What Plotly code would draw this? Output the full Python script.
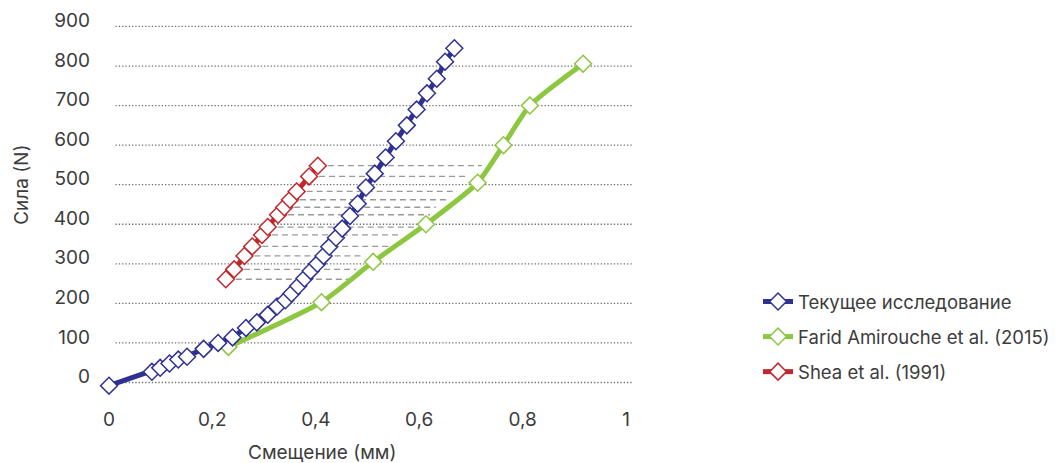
import plotly.graph_objects as go

# ---- data ----
blue_name = "Текущее исследование"
blue_x = [0, 0.083, 0.099, 0.117, 0.134, 0.151, 0.183, 0.211, 0.239, 0.265, 0.286, 0.307,
          0.325, 0.341, 0.353, 0.366, 0.378, 0.390, 0.403, 0.415, 0.426, 0.439, 0.451,
          0.466, 0.481, 0.497, 0.514, 0.535, 0.555, 0.576, 0.595, 0.615, 0.634, 0.650, 0.668]
blue_y = [-8, 27, 37, 48, 58, 65, 85, 100, 114, 138, 152, 171, 192, 208, 225, 244, 263,
          282, 300, 320, 343, 366, 389, 421, 452, 493, 528, 569, 610, 650, 690, 731, 768,
          811, 845]

green_name = "Farid Amirouche et al. (2015)"
green_x = [0.231, 0.411, 0.511, 0.613, 0.713, 0.763, 0.814, 0.917]
green_y = [90, 203, 305, 400, 505, 600, 700, 806]

red_name = "Shea et al. (1991)"
red_x = [0.226, 0.242, 0.262, 0.277, 0.296, 0.307, 0.327, 0.339, 0.350, 0.363, 0.387, 0.404]
red_y = [261, 286, 320, 344, 373, 393, 424, 443, 462, 483, 521, 548]

# right ends of the grey dashed guide lines (one per red point)
dash_end_x = [0.466, 0.478, 0.492, 0.544, 0.567, 0.593, 0.621, 0.632, 0.653, 0.673, 0.696, 0.721]

x_ticks = [0, 0.2, 0.4, 0.6, 0.8, 1]
x_tick_text = ["0", "0,2", "0,4", "0,6", "0,8", "1"]
y_ticks = [0, 100, 200, 300, 400, 500, 600, 700, 800, 900]

x_title = "Смещение (мм)"
y_title = "Сила (N)"

BLUE = "#2e3192"
GREEN = "#8dc63f"
RED = "#c1272d"
TEXT = "#3c3c3c"
FONT = "Inter, 'Open Sans', sans-serif"
FS = 19

fig = go.Figure()

# dashed guide lines
dx, dy = [], []
for xs, xe, yv in zip(red_x, dash_end_x, red_y):
    dx += [xs, xe, None]
    dy += [yv, yv, None]
fig.add_trace(go.Scatter(x=dx, y=dy, mode="lines", showlegend=False, hoverinfo="skip",
                         line=dict(color="#999999", width=1.3, dash="6px,4px")))

marker_common = dict(symbol="diamond", size=13, color="white")

fig.add_trace(go.Scatter(x=green_x, y=green_y, name=green_name, mode="lines+markers",
                         line=dict(color=GREEN, width=5, shape="spline", smoothing=0.6),
                         marker=dict(**marker_common, line=dict(color=GREEN, width=1.5)),
                         legendgroup="g", legendrank=2))
fig.add_trace(go.Scatter(x=red_x, y=red_y, name=red_name, mode="lines+markers",
                         line=dict(color=RED, width=5),
                         marker=dict(**marker_common, line=dict(color=RED, width=1.5)),
                         legendgroup="r", legendrank=3))
fig.add_trace(go.Scatter(x=blue_x, y=blue_y, name=blue_name, mode="lines+markers",
                         line=dict(color=BLUE, width=5),
                         marker=dict(**marker_common, line=dict(color=BLUE, width=1.5)),
                         legendgroup="b", legendrank=1))

# dotted horizontal gridlines
for yv in y_ticks:
    fig.add_shape(type="line", xref="x", yref="y", x0=0.0126, x1=1.0135, y0=yv, y1=yv,
                  line=dict(color="#6e6e6e", width=1.3, dash="1.3px,2px"), layer="below")

# axis titles (placed as in the reference, not centred on the plot area)
fig.add_annotation(text=x_title, xref="paper", yref="paper", x=0.407, y=-0.1526,
                   xanchor="center", yanchor="middle", showarrow=False,
                   font=dict(size=FS, color=TEXT))
fig.add_annotation(text=y_title, xref="paper", yref="paper", x=-0.1405, y=0.553,
                   xanchor="center", yanchor="middle", textangle=-90, showarrow=False,
                   font=dict(size=FS, color=TEXT))

# the page body adds an 8px margin, so the figure is 8px smaller in each direction
fig.update_layout(
    width=1054, height=455,
    margin=dict(l=91, r=415, t=7, b=68),
    paper_bgcolor="white", plot_bgcolor="white",
    font=dict(family=FONT, size=FS, color=TEXT),
    xaxis=dict(range=[-0.01934, 1.0406], tickvals=x_ticks, ticktext=x_tick_text,
               showgrid=False, zeroline=False, showline=False, ticks="",
               ticklabelstandoff=11, automargin=False),
    yaxis=dict(range=[-31.6, 929], tickvals=y_ticks, showgrid=False, zeroline=False,
               showline=False, ticks="", ticklabelstandoff=8, ticklabelshift=-6,
               automargin=False),
    legend=dict(xref="container", yref="container", x=0.7116, xanchor="left",
                y=0.3956, yanchor="top", traceorder="grouped",
                tracegroupgap=8, font=dict(size=18.5, color=TEXT), bgcolor="rgba(0,0,0,0)"),
    showlegend=True,
)

fig.write_html("out.html")
